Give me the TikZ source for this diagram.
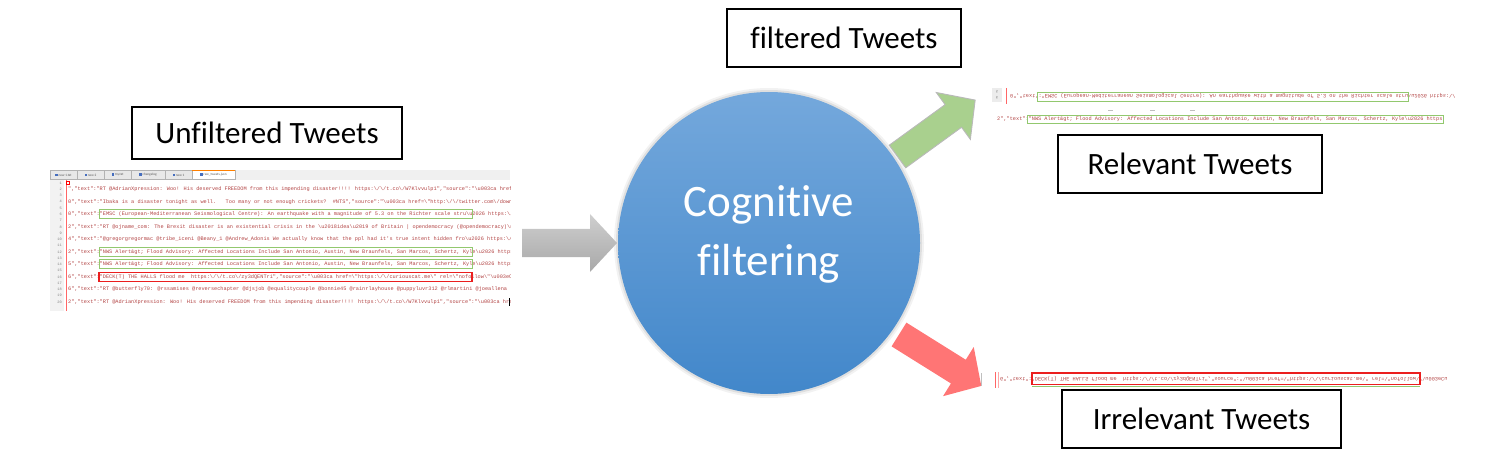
\documentclass[tikz,border=0pt]{standalone}
\usepackage{fontspec}
\usepackage{graphicx}
\setmainfont{Carlito}[Ligatures=CommonOff]
\newfontfamily\codefont{Liberation Mono}

\definecolor{cogtop}{RGB}{116,168,220}
\definecolor{cogbot}{RGB}{66,135,202}
\definecolor{arrgreen}{RGB}{169,208,142}
\definecolor{arrred}{RGB}{255,117,117}
\definecolor{codered}{RGB}{178,68,68}
\definecolor{boxgreen}{RGB}{146,200,110}
\definecolor{boxred}{RGB}{235,30,30}
\definecolor{tabblue}{RGB}{70,110,190}

\newcommand{\bs}{\textbackslash}
\newcommand{\twxp}{"RT @AdrianXpression: Woo! His deserved FREEDOM from this impending disaster!!!! https:\bs/\bs/t.co\bs/W7Klvvulp1","source":"\bs u003ca href=}
\newcommand{\twibaka}{"Ibaka is a disaster tonight as well.~~~Too many or not enough crickets?~~\#NTS","source":"\bs u003ca href=\bs"http:\bs/\bs/twitter.com\bs/down}
\newcommand{\twemsc}{"EMSC (European-Mediterranean Seismological Centre): An earthquake with a magnitude of 5.3 on the Richter scale stru\bs u2026 https:\bs/}
\newcommand{\twbrexit}{"RT @ojname\_com: The Brexit disaster is an existential crisis in the \bs u2018idea\bs u2019 of Britain | opendemocracy (@opendemocracy)\bs n}
\newcommand{\twgreg}{"@gregorgregormac @tribe\_iceni @Beany\_1 @Andrew\_Adonis We actually know that the ppl had it's true intent hidden fro\bs u2026 https:\bs/}
\newcommand{\twnws}{"NWS Alert\&gt; Flood Advisory: Affected Locations Include San Antonio, Austin, New Braunfels, San Marcos, Schertz, Kyle\bs u2026 https}
\newcommand{\twdeck}{"DECK(T) THE HALLS flood me~~https:\bs/\bs/t.co\bs/zy3dQENTri","source":"\bs u003ca href=\bs"https:\bs/\bs/curiouscat.me\bs" rel=\bs"nofollow\bs"\bs u003eCu}
\newcommand{\twbutter}{"RT @butterfly70: @rssamises @reversechapter @djsjob @equalitycouple @bonnie45 @rainrlayhouse @puppyluvr312 @rlmartini @joeallena}

\newcommand{\blockarrow}[4]{\path[#1,shift={(#2)},rotate=#3] (0,-14) -- ({#4-27},-14) -- ({#4-27},-29) -- (#4,0) -- ({#4-27},29) -- ({#4-27},14) -- (0,14) -- cycle;}

\begin{document}
\begin{tikzpicture}[x=1pt,y=-1pt,
	tag/.style={draw=black, line width=1.3pt, rectangle, inner sep=0pt, font=\fontsize{31}{37}\selectfont},
	code/.style={anchor=west, inner sep=0pt, text=codered, font=\codefont\fontsize{5.25}{6}\selectfont},
	lnum/.style={inner sep=0pt, text=gray, font=\codefont\fontsize{3.6}{4}\selectfont},
	tab/.style={draw=gray!60, line width=0.4pt, fill=gray!18, inner sep=0pt, minimum height=9pt, text=gray!70!black, font=\fontsize{3.4}{4}\selectfont},
	hitgood/.style={draw=boxgreen, line width=0.9pt},
	hitbad/.style={draw=boxred, line width=1.2pt}]

\useasboundingbox (0,0) rectangle (1502,465);

\path (267,133) node[tag, minimum width=270pt, minimum height=52pt] (unfilt) {Unfiltered Tweets}
		(844,38) node[tag, minimum width=234pt, minimum height=58pt] (filt) {filtered Tweets}
		(1190,164) node[tag, minimum width=264pt, minimum height=58pt] (relev) {Relevant Tweets}
		(1201.5,419) node[tag, minimum width=279pt, minimum height=58pt] (irrel) {Irrelevant Tweets};

\coordinate (cogc) at (769,243);
\fill[black, opacity=0.05] (cogc) circle (155pt);
\fill[black, opacity=0.08] (cogc) circle (153pt);
\node[circle, minimum size=302pt, inner sep=0pt, top color=cogtop, bottom color=cogbot] (cog) at (cogc) {};
\node[text=white, align=center, font=\fontsize{45}{59}\selectfont] (cogtext) at ([yshift=9pt]cog.center) {Cognitive\\filtering};

\blockarrow{top color=gray!38, bottom color=gray!68}{522,243}{0}{95}
\blockarrow{fill=arrgreen, draw=gray!55, line width=0.9pt}{897.5,156.5}{36}{96}
\blockarrow{fill=arrred}{899,334.5}{-32}{97}

\fill[gray!12] (50,170) rectangle (510,180);
\path (63.5,175) node[tab, minimum width=27pt] (tab1) {{\color{tabblue}\rule{2.5pt}{2.5pt}} new 1.txt}
		(90.5,175) node[tab, minimum width=27pt] (tab2) {{\color{tabblue}\rule{2.5pt}{2.5pt}} new 2}
		(117.5,175) node[tab, minimum width=27pt] (tab3) {{\color{tabblue}\rule{2.5pt}{2.5pt}} my.txt}
		(148,175) node[tab, minimum width=34pt] (tab4) {{\color{tabblue}\rule{2.5pt}{2.5pt}} changelog}
		(178.5,175) node[tab, minimum width=27pt] (tab5) {{\color{tabblue}\rule{2.5pt}{2.5pt}} new 1}
		(213.5,175) node[tab, minimum width=43pt, fill=white] (tab6) {{\color{tabblue}\rule{2.5pt}{2.5pt}} raw\_tweets.json};
\draw[orange, line width=1pt] (tab6.north west) -- (tab6.north east);

\fill[gray!10] (50,180) rectangle (64,311);
\draw[red!60, line width=0.5pt] (66,180) -- (66,311);
\draw[red, line width=0.5pt] (66.5,181) rectangle (69.5,184.5);
\foreach \n in {1,...,20}
	\node[lnum, anchor=east] at (62,{176.74+6.26*\n}) {\n};

\begin{scope}
\clip (50,170) rectangle (510,312);
\path (68,189.3) node[code] (row2) {","text":\twxp}
		(68,201.8) node[code] (row4) {0","text":\twibaka}
		(68,214.3) node[code] (row6) {0","text":\twemsc}
		(68,226.8) node[code] (row8) {2","text":\twbrexit}
		(68,239.3) node[code] (row10) {4","text":\twgreg}
		(68,251.9) node[code] (row12) {2","text":\twnws}
		(68,264.4) node[code] (row14) {5","text":\twnws}
		(68,276.9) node[code] (row16) {6","text":\twdeck}
		(68,289.4) node[code] (row18) {6","text":\twbutter}
		(68,301.9) node[code] (row20) {2","text":\twxp};
\end{scope}
\draw[hitgood] (99,209.8) rectangle (472,218.8);
\draw[hitgood] (99,247.4) rectangle (472,256.4);
\draw[hitgood] (99,259.9) rectangle (472,268.9);
\draw[hitbad] (99,272.4) rectangle (472,281.4);
\draw[black, line width=0.6pt] (509,298) -- (509,306);

\fill[gray!15] (992,88) rectangle (1002,102);
\node[lnum] at (997,91.5) {\scalebox{1}[-1]{5}};
\node[lnum] at (997,97.5) {\scalebox{1}[-1]{6}};
\draw[red!60, line width=0.6pt] (1006,88) -- (1006,104);
\node[code] (relrow1) at (1010,96) {\scalebox{1}[-1]{0","text":\twemsc}};
\draw[hitgood] (1037,92) rectangle (1408,101);
\foreach \x in {1108,1150,1190}
	\draw[gray!50, line width=0.6pt] (\x,110) -- ++(5,0);
\node[code] (relrow2) at (997,119.5) {2","text":\twnws};
\draw[hitgood] (1027,115.5) rectangle (1443,123.5);

\draw[gray!50, line width=0.6pt] (981,373) -- (981,386);
\draw[red!60, line width=0.6pt] (995,372) -- (995,388);
\draw[red!35, line width=0.6pt] (998,372) -- (998,388);
\node[code] (irrow) at (1000,379) {\scalebox{1}[-1]{6","text":\twdeck}};
\draw[hitbad] (1032,373) rectangle (1420,384.5);
\draw[boxgreen, line width=0.8pt] (1032,386.5) -- (1420,386.5);
\end{tikzpicture}
\end{document}
